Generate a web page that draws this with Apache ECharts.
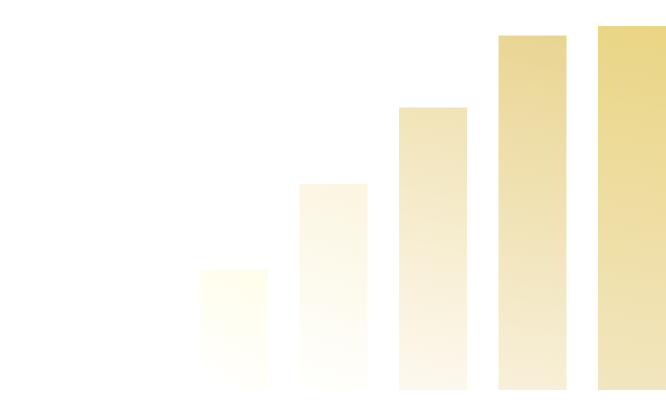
<!DOCTYPE html>
<html>
<head>
<meta charset="utf-8">
<script src="https://cdn.jsdelivr.net/npm/echarts@6/dist/echarts.min.js"></script>
<style>html,body{margin:0;padding:0;background:#fff}#c{width:666px;height:420px}</style>
</head>
<body>
<div id="c"></div>
<script>
var categories = ['A', 'B', 'C', 'D', 'E'];
var values = [510, 870, 1195, 1500, 1540];
var topColors = ['#fffdea', '#fbf5e0', '#f1e3b6', '#e9d592', '#ead584'];
var bottomColors = ['#ffffff', '#fffffd', '#fdf9f0', '#f8f0da', '#f2e6c0'];

var chart = echarts.init(document.getElementById('c'));
var data = values.map(function (v, i) {
  return {
    value: v,
    itemStyle: {
      color: new echarts.graphic.LinearGradient(0, 1, 1, 0, [
        { offset: 0, color: bottomColors[i] },
        { offset: 1, color: topColors[i] }
      ])
    }
  };
});
chart.setOption({
  animation: false,
  grid: { left: 234, right: 34, top: 0, bottom: 30, containLabel: false },
  xAxis: {
    type: 'category', data: categories, show: false, boundaryGap: false
  },
  yAxis: { type: 'value', min: 0, max: 1650, show: false },
  series: [{
    type: 'bar',
    data: data,
    barWidth: 68,
    label: {
      show: true, position: 'top', color: '#ffffff', fontWeight: 'bold', fontSize: 13
    }
  }]
});
</script>
</body>
</html>
